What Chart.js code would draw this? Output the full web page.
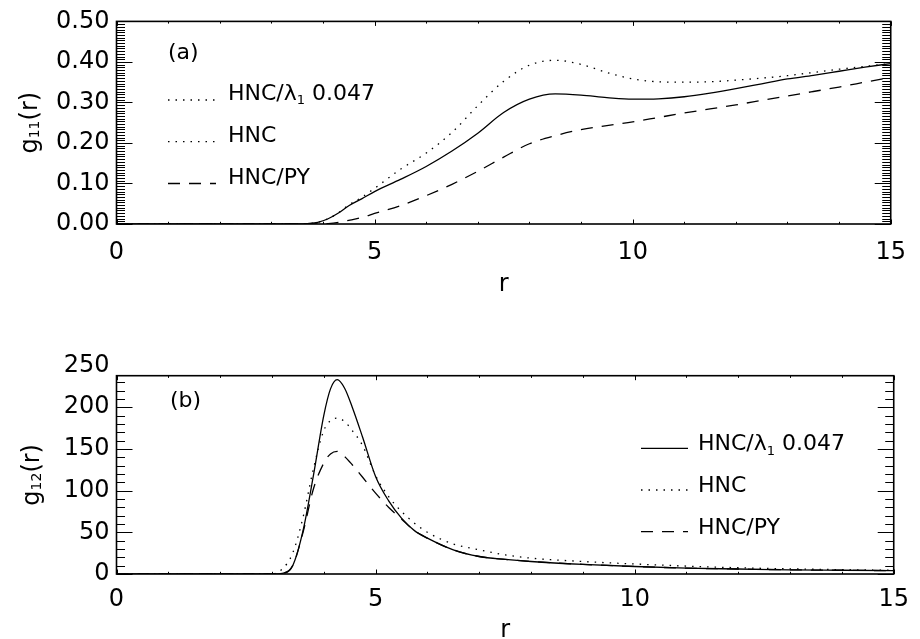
<!DOCTYPE html>
<html>
<head>
<meta charset="utf-8">
<script src="https://cdn.jsdelivr.net/npm/chart.js"></script>
<style>
  html, body { margin: 0; padding: 0; background: #fff; overflow: hidden; }
  #wrap { position: relative; width: 920px; height: 639px; }
  canvas { position: absolute; left: 0; }
  #top { top: 0; }
  #bottom { top: 320px; }
</style>
</head>
<body>
<div id="wrap">
  <canvas id="top" width="920" height="320"></canvas>
  <canvas id="bottom" width="920" height="330"></canvas>
</div>
<script>
// series names (use _n for a subscript)
const seriesNames = ['HNC/λ_1 0.047', 'HNC', 'HNC/PY'];

// panel (a): g11(r)
const rTop = [0, 1, 2, 3, 3.5, 3.7, 3.9, 4.1, 4.3, 4.5, 4.75, 5, 5.5, 6, 6.5, 7, 7.5, 8, 8.5, 9, 9.5, 10, 10.5, 11, 11.5, 12, 12.5, 13, 13.5, 14, 14.5, 15];
const g11Lambda = [0, 0, 0, 0, 0, 0.001, 0.004, 0.013, 0.027, 0.045, 0.062, 0.080, 0.110, 0.142, 0.180, 0.224, 0.275, 0.308, 0.321, 0.318, 0.312, 0.308, 0.309, 0.314, 0.323, 0.334, 0.346, 0.358, 0.367, 0.377, 0.387, 0.396];
const g11Hnc = [0, 0, 0, 0, 0, 0.001, 0.004, 0.013, 0.028, 0.047, 0.066, 0.088, 0.135, 0.175, 0.226, 0.292, 0.352, 0.392, 0.404, 0.394, 0.374, 0.358, 0.351, 0.350, 0.351, 0.355, 0.360, 0.366, 0.374, 0.382, 0.389, 0.396];
const g11HncPy = [0, 0, 0, 0, 0, 0, 0, 0.001, 0.004, 0.009, 0.016, 0.026, 0.045, 0.070, 0.098, 0.130, 0.165, 0.198, 0.218, 0.233, 0.243, 0.252, 0.263, 0.274, 0.284, 0.294, 0.305, 0.316, 0.327, 0.338, 0.350, 0.362];

// panel (b): g12(r)
const rBottom = [0, 1, 2, 3, 3.2, 3.4, 3.6, 3.8, 4.0, 4.13, 4.26, 4.4, 4.55, 4.75, 5, 5.25, 5.5, 5.75, 6, 6.5, 7, 7.5, 8, 9, 10, 11, 12, 13, 14, 15];
const g12Lambda = [0, 0, 0, 0, 0.8, 10, 52, 118, 190, 222, 233, 223, 200, 164, 117, 88, 67, 52, 43, 29, 21, 17.5, 15, 11.5, 9, 7, 6, 5, 4.5, 4];
const g12Hnc = [0, 0, 0, 0, 6, 25, 68, 126, 172, 184, 187, 183, 172, 154, 118, 93, 75, 61, 50, 36, 29, 23, 19, 15, 12, 9.5, 7.5, 6.2, 5.2, 4.5];
const g12HncPy = [0, 0, 0, 0, 0.8, 10, 50, 102, 133, 144, 147, 141, 131, 116, 97, 80, 66, 52, 43, 29, 21, 17.5, 15, 11.5, 9, 7, 6, 5, 4.5, 4];

// tick labels
const xTicks = [0, 5, 10, 15];
const yTicksTop = [0, 0.1, 0.2, 0.3, 0.4, 0.5];
const yTicksBottom = [0, 50, 100, 150, 200, 250];

const FONT = '"DejaVu Sans", sans-serif';
Chart.defaults.font.family = FONT;
Chart.defaults.color = '#000';

const curveDash = [[], [1.5, 6], [12, 9]];

function richParts(s) {
  return s.split(/_(\d+)/).map((t, i) => [t, i % 2 === 1]);
}
function richWidth(ctx, parts, size) {
  let w = 0;
  parts.forEach(([t, sub]) => {
    ctx.font = (sub ? Math.round(size * 0.6) : size) + 'px ' + FONT;
    w += ctx.measureText(t).width;
  });
  return w;
}
function drawRich(ctx, parts, x, y, size) {
  let cx = x;
  parts.forEach(([t, sub]) => {
    ctx.font = (sub ? Math.round(size * 0.6) : size) + 'px ' + FONT;
    ctx.fillText(t, cx, y + (sub ? size * 0.2 : 0));
    cx += ctx.measureText(t).width;
  });
}

// IDL-like frame: box, inward ticks on all sides, y title, tag and legend
const idlFrame = {
  id: 'idlFrame',
  afterDraw(chart, args, o) {
    const {ctx, chartArea: a} = chart;
    const xs = chart.scales.x, ys = chart.scales.y;
    ctx.save();
    ctx.strokeStyle = '#000';
    ctx.fillStyle = '#000';
    ctx.lineWidth = 1;
    ctx.beginPath();
    for (let k = 0; ; k++) {
      const v = ys.min + k * o.yMinor;
      if (v > ys.max + 1e-9) break;
      const p = Math.round(ys.getPixelForValue(v)) + 0.5;
      const len = k % o.yPerMajor === 0 ? o.yMajorLen : o.yMinorLen;
      ctx.moveTo(a.left, p); ctx.lineTo(a.left + len, p);
      ctx.moveTo(a.right, p); ctx.lineTo(a.right - len, p);
    }
    for (let k = 0; ; k++) {
      const v = xs.min + k * o.xMinor;
      if (v > xs.max + 1e-9) break;
      const p = Math.round(xs.getPixelForValue(v)) + 0.5;
      const len = k % o.xPerMajor === 0 ? o.xMajorLen : o.xMinorLen;
      ctx.moveTo(p, a.bottom); ctx.lineTo(p, a.bottom - len);
      ctx.moveTo(p, a.top); ctx.lineTo(p, a.top + len);
    }
    ctx.stroke();
    ctx.lineWidth = 1.6;
    ctx.strokeRect(a.left, a.top, a.right - a.left, a.bottom - a.top);

    // rotated y title
    const tp = richParts(o.yTitle);
    const tw = richWidth(ctx, tp, o.titleSize);
    ctx.save();
    ctx.translate(o.yTitleX, (a.top + a.bottom) / 2);
    ctx.rotate(-Math.PI / 2);
    ctx.textBaseline = 'middle';
    drawRich(ctx, tp, -tw / 2, 0, o.titleSize);
    ctx.restore();

    // panel tag
    ctx.textBaseline = 'alphabetic';
    ctx.font = o.textSize + 'px ' + FONT;
    ctx.fillText(o.tag, o.tagX, o.tagY);

    // legend
    chart.data.datasets.forEach((ds, i) => {
      const ly = o.rows[i];
      ctx.beginPath();
      ctx.lineWidth = 1.3;
      ctx.setLineDash(o.dashes[i]);
      ctx.moveTo(o.lx, ly);
      ctx.lineTo(o.lx + o.len, ly);
      ctx.stroke();
      ctx.setLineDash([]);
      drawRich(ctx, richParts(ds.label), o.textX, ly + o.textDy, o.textSize);
    });
    ctx.restore();
  }
};

function makeChart(id, cfg) {
  return new Chart(document.getElementById(id), {
    type: 'line',
    data: {
      datasets: cfg.series.map((s, i) => ({
        label: seriesNames[i],
        data: cfg.r.map((r, j) => ({x: r, y: s[j]})),
        borderColor: '#000',
        borderWidth: 1.3,
        borderDash: curveDash[i],
        pointRadius: 0,
        cubicInterpolationMode: 'monotone',
        fill: false
      }))
    },
    options: {
      responsive: false,
      animation: false,
      layout: {padding: {left: 0, right: 17.5, top: cfg.top, bottom: 0}},
      plugins: {
        legend: {display: false},
        tooltip: {enabled: false},
        idlFrame: cfg.frame
      },
      scales: {
        x: {
          type: 'linear', min: 0, max: 15,
          afterBuildTicks: s => { s.ticks = xTicks.map(v => ({value: v})); },
          afterFit: s => { s.height = cfg.xHeight; },
          grid: {display: false, drawTicks: false},
          border: {display: false},
          ticks: {color: '#000', font: {size: 24}, padding: cfg.xPad, maxRotation: 0, autoSkip: false},
          title: {display: true, text: 'r', color: '#000', font: {size: 24}, padding: {top: 0, bottom: cfg.titlePad}}
        },
        y: {
          type: 'linear', min: cfg.yMin, max: cfg.yMax,
          afterBuildTicks: s => { s.ticks = cfg.yTicks.map(v => ({value: v})); },
          afterFit: s => { s.width = 116.5; },
          grid: {display: false, drawTicks: false},
          border: {display: false},
          ticks: {color: '#000', font: {size: 24}, padding: 7, autoSkip: false, callback: cfg.yFmt}
        }
      }
    },
    plugins: [idlFrame]
  });
}

makeChart('top', {
  r: rTop,
  series: [g11Lambda, g11Hnc, g11HncPy],
  top: 16, xHeight: 96, xPad: 14, titlePad: 21,
  yMin: 0, yMax: 0.5, yTicks: yTicksTop,
  yFmt: v => v.toFixed(2),
  frame: {
    yMinor: 0.1 / 15, yPerMajor: 15, yMajorLen: 16, yMinorLen: 8.5,
    xMinor: 1, xPerMajor: 5, xMajorLen: 4.5, xMinorLen: 2.2,
    yTitle: 'g_11(r)', yTitleX: 31, titleSize: 24,
    tag: '(a)', tagX: 168, tagY: 59, textSize: 22,
    lx: 168, len: 48, textX: 228, rows: [100, 141.7, 183.5], textDy: 0,
    dashes: [[1.5, 6], [1.5, 6], [12, 9]]
  }
});

makeChart('bottom', {
  r: rBottom,
  series: [g12Lambda, g12Hnc, g12HncPy],
  top: 55.7, xHeight: 76, xPad: 11, titlePad: 5,
  yMin: 0, yMax: 237.8, yTicks: yTicksBottom,
  yFmt: v => String(v),
  frame: {
    yMinor: 10, yPerMajor: 5, yMajorLen: 16, yMinorLen: 8.5,
    xMinor: 1, xPerMajor: 5, xMajorLen: 4.5, xMinorLen: 2.2,
    yTitle: 'g_12(r)', yTitleX: 33, titleSize: 24,
    tag: '(b)', tagX: 170, tagY: 87, textSize: 22,
    lx: 641, len: 47, textX: 698, rows: [128.3, 170, 211.7], textDy: 2,
    dashes: [[], [1.5, 6], [12, 9]]
  }
});
</script>
</body>
</html>
